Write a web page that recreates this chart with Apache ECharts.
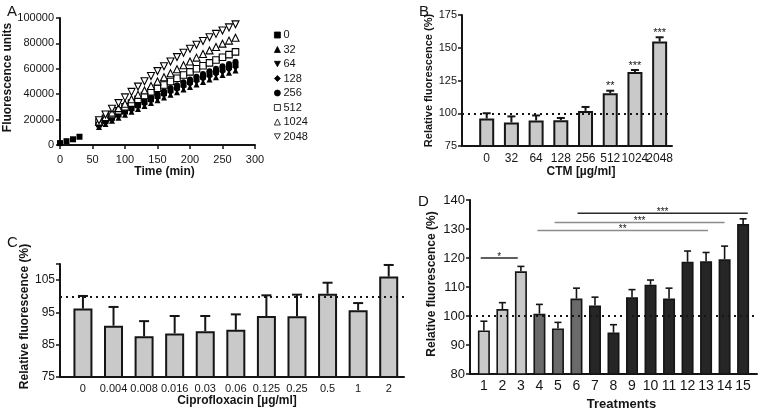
<!DOCTYPE html>
<html><head><meta charset="utf-8">
<script src="https://cdn.jsdelivr.net/npm/echarts@6/dist/echarts.min.js"></script>
<style>html,body{margin:0;padding:0;background:#fff}#c{width:760px;height:412px}</style>
</head><body><div id="c"></div>
<script>
// ---------- Panel A data ----------
const legendA = ['0','32','64','128','256','512','1024','2048'];
const timeEarly = [0, 10, 20, 30];
const earlyConc0 = [1500, 3000, 4500, 6500];
const timeA = [60,70,80,90,100,110,120,130,140,150,160,170,180,190,200,210,220,230,240,250,260,270];
const fl_0    = [16200,18800,21400,23900,26400,28900,31300,33700,36100,38500,40800,43100,45300,47500,49700,51800,53800,55800,57700,59600,61300,63000];
const fl_32   = [14200,16600,19000,21400,23800,26100,28400,30700,33000,35200,37400,39500,41600,43700,45700,47700,49700,51600,53400,55200,56900,58600];
const fl_64   = [15000,17500,19900,22300,24700,27100,29400,31700,34000,36300,38500,40700,42800,44900,47000,49000,51000,52900,54800,56600,58300,60000];
const fl_128  = [15500,18000,20500,23000,25400,27800,30200,32600,34900,37200,39500,41700,43900,46000,48100,50100,52100,54000,55900,57700,59500,61200];
const fl_256  = [17000,19600,22200,24800,27400,30000,32500,35000,37500,40000,42400,44800,47100,49400,51600,53800,55900,58000,60000,62000,63800,65500];
const fl_512  = [18000,21000,24000,27000,30000,33000,36000,39000,41800,44600,47300,50000,52600,55100,57600,60000,62400,64700,66900,69100,71200,73300];
const fl_1024 = [18500,22000,25500,29000,32500,36000,39500,43000,46500,50000,53300,56500,59700,62800,65800,68800,71700,74500,77200,79800,82200,84500];
const fl_2048 = [19500,24000,28500,33000,37500,41800,46000,50200,54300,58200,62000,65700,69200,72600,75800,78900,81900,84800,87500,90100,92600,95000];
const xTicksA = [0, 300, 50];
const yTicksA = [0, 100000, 20000];

// ---------- Panel B data ----------
const ctmLabels = ['0','32','64','128','256','512','1024','2048'];
const ctmMean   = [96.0, 93.0, 94.5, 94.7, 101.8, 115.2, 131.5, 154.8];
const ctmUpper  = [100.0, 97.6, 98.3, 96.4, 104.8, 117.2, 133.0, 158.0];
const ctmStars  = ['','','','','','**','***','***'];

// ---------- Panel C data ----------
const ciproLabels = ['0','0.004','0.008','0.016','0.03','0.06','0.125','0.25','0.5','1','2'];
const ciproMean   = [96.2, 90.9, 87.6, 88.5, 89.2, 89.6, 93.9, 93.8, 100.8, 95.7, 106.1];
const ciproUpper  = [100.1, 96.7, 92.3, 93.9, 93.9, 94.4, 100.3, 100.5, 104.2, 97.9, 109.7];

// ---------- Panel D data ----------
const treatments = [1,2,3,4,5,6,7,8,9,10,11,12,13,14,15];
const treatMean  = [95.0, 102.4, 115.4, 100.8, 95.7, 106.0, 103.6, 94.3, 106.5, 110.8, 106.0, 118.7, 118.9, 119.6, 131.7];
const treatUpper = [98.2, 104.6, 117.1, 104.0, 97.8, 109.6, 106.5, 97.0, 109.1, 112.4, 109.6, 122.4, 121.9, 124.1, 133.5];
const treatGroup = [1,1,1,2,2,2,3,3,3,3,3,3,3,3,3];
const sigFrom = [0.83, 3.89, 4.82, 6.06];
const sigTo   = [2.83, 13.1, 14.0, 15.25];
const sigY    = [120, 129.5, 132.2, 135.4];
const sigText = ['*', '**', '***', '***'];
const sigTone = ['dark', 'light', 'light', 'dark'];
const refLine = 100;

// ---------- styles ----------
const FF = '"Liberation Sans", Arial, Helvetica, sans-serif';
const FN = '"Liberation Sans Narrow", "Liberation Sans", Arial, sans-serif';
const INK = '#151515';
const groupColor = {1: '#c9c9c9', 2: '#6a6a6a', 3: '#262626'};
const toneColor = {dark: '#2a2a2a', light: '#8c8c8c'};

const chart = echarts.init(document.getElementById('c'), null, {renderer: 'canvas'});

function catFormatter(labels, offset) {
  return function (v) {
    const i = Math.round(v);
    if (Math.abs(v - i) > 1e-6) return '';
    const k = i - offset;
    return (k >= 0 && k < labels.length) ? labels[k] : '';
  };
}

function errRender(stars, capHalf, lw, starSize) {
  return function (params, api) {
    const x = api.value(0), top = api.value(1), cap = api.value(2);
    const p1 = api.coord([x, top]);
    const p2 = api.coord([x, cap]);
    const ch = [
      {type: 'line', shape: {x1: p1[0], y1: p1[1], x2: p2[0], y2: p2[1]}, style: {stroke: INK, lineWidth: lw}},
      {type: 'line', shape: {x1: p2[0] - capHalf, y1: p2[1], x2: p2[0] + capHalf, y2: p2[1]}, style: {stroke: INK, lineWidth: lw}}
    ];
    const s = stars ? stars[params.dataIndex] : '';
    if (s) ch.push({type: 'text', x: p2[0], y: p2[1] + 1, style: {text: s, fill: INK, font: starSize + 'px ' + FF, align: 'center', verticalAlign: 'bottom'}});
    return {type: 'group', children: ch};
  };
}

function sigRender(params, api) {
  const i = params.dataIndex;
  const a = api.coord([api.value(0), api.value(2)]);
  const b = api.coord([api.value(1), api.value(2)]);
  const col = toneColor[sigTone[i]];
  return {type: 'group', children: [
    {type: 'line', shape: {x1: a[0], y1: a[1], x2: b[0], y2: b[1]}, style: {stroke: col, lineWidth: 1.5}},
    {type: 'text', x: (a[0] + b[0]) / 2, y: a[1] + 4, style: {text: sigText[i], fill: INK, font: '10px ' + FF, align: 'center', verticalAlign: 'bottom'}}
  ]};
}

function valAxisBase(gi, min, max, interval, fs, margin, font) {
  return {
    gridIndex: gi, type: 'value', min: min, max: max, interval: interval,
    axisLine: {show: true, onZero: false, lineStyle: {color: INK, width: 2}},
    axisTick: {show: true, length: 4, lineStyle: {color: INK, width: 1.5}},
    splitLine: {show: false},
    axisLabel: {color: INK, fontSize: fs, fontFamily: font || FF, margin: margin}
  };
}

const pairs = (xs, ys) => xs.map((x, i) => [x, ys[i]]);

const symA = {
  '0':    {symbol: 'rect', size: 6, fill: '#000', stroke: '#000'},
  '32':   {symbol: 'triangle', size: 6, fill: '#000', stroke: '#000'},
  '64':   {symbol: 'path://M0,0L10,0L5,9Z', size: 6, fill: '#000', stroke: '#000'},
  '128':  {symbol: 'diamond', size: 6, fill: '#000', stroke: '#000'},
  '256':  {symbol: 'circle', size: 6, fill: '#000', stroke: '#000'},
  '512':  {symbol: 'rect', size: 6.5, fill: '#fff', stroke: '#000'},
  '1024': {symbol: 'triangle', size: 7, fill: '#fff', stroke: '#000'},
  '2048': {symbol: 'path://M0,0L10,0L5,9Z', size: 7, fill: '#fff', stroke: '#000'}
};
const dataA = {
  '0': pairs(timeEarly, earlyConc0).concat(pairs(timeA, fl_0)),
  '32': pairs(timeA, fl_32), '64': pairs(timeA, fl_64), '128': pairs(timeA, fl_128),
  '256': pairs(timeA, fl_256), '512': pairs(timeA, fl_512), '1024': pairs(timeA, fl_1024), '2048': pairs(timeA, fl_2048)
};
const seriesA = legendA.map(name => ({
  name: name, type: 'scatter', xAxisIndex: 0, yAxisIndex: 0,
  symbol: symA[name].symbol, symbolSize: symA[name].size,
  itemStyle: {color: symA[name].fill, borderColor: symA[name].stroke, borderWidth: symA[name].fill === '#fff' ? 1.1 : 0, opacity: 1},
  data: dataA[name], animation: false
}));

const option = {
  animation: false,
  backgroundColor: '#fff',
  textStyle: {fontFamily: FF},
  title: [
    {text: 'A', left: 2, top: -1, textStyle: {fontSize: 15, fontWeight: 'normal', color: INK, fontFamily: FF}},
    {text: 'B', left: 414, top: -1, textStyle: {fontSize: 15, fontWeight: 'normal', color: INK, fontFamily: FF}},
    {text: 'C', left: 2, top: 230, textStyle: {fontSize: 15, fontWeight: 'normal', color: INK, fontFamily: FF}},
    {text: 'D', left: 413, top: 189, textStyle: {fontSize: 15, fontWeight: 'normal', color: INK, fontFamily: FF}}
  ],
  legend: {
    left: 269, top: 24, orient: 'vertical', itemWidth: 6, itemHeight: 6, itemGap: 2.5,
    data: legendA, selectedMode: false,
    itemStyle: {borderWidth: 0.8},
    textStyle: {fontSize: 11, color: INK, fontFamily: FF, lineHeight: 12, padding: [0, 0, 0, -2]}
  },
  grid: [
    {left: 60, top: 18, width: 195, height: 127},
    {left: 462, top: 15, width: 210, height: 131},
    {left: 60, top: 264, width: 344, height: 113},
    {left: 470, top: 200, width: 287, height: 177}
  ],
  xAxis: [
    Object.assign(valAxisBase(0, xTicksA[0], xTicksA[1], xTicksA[2], 11, 9), {
      name: 'Time (min)', nameLocation: 'middle', nameGap: 19,
      nameTextStyle: {fontWeight: 'bold', fontSize: 12, color: INK, fontFamily: FF, padding: [0, 0, 0, 14]}
    }),
    Object.assign(valAxisBase(1, -1, 7.5, 0.25, 12, 7), {
      axisTick: {show: false},
      axisLabel: {color: INK, fontSize: 12, fontFamily: FF, margin: 7, formatter: catFormatter(ctmLabels, 0)},
      name: 'CTM [µg/ml]', nameLocation: 'middle', nameGap: 20,
      nameTextStyle: {fontWeight: 'bold', fontSize: 12, color: INK, fontFamily: FF, padding: [0, 0, 0, 28]}
    }),
    Object.assign(valAxisBase(2, -0.75, 10.5, 0.25, 11, 6), {
      axisTick: {show: false},
      axisLabel: {color: INK, fontSize: 11, fontFamily: FF, margin: 6, formatter: catFormatter(ciproLabels, 0)},
      name: 'Ciprofloxacin [µg/ml]', nameLocation: 'middle', nameGap: 14,
      nameTextStyle: {fontWeight: 'bold', fontSize: 12, color: INK, fontFamily: FF, padding: [0, 0, 0, 10]}
    }),
    Object.assign(valAxisBase(3, 0.25, 15.75, 0.25, 14, 5), {
      axisTick: {show: false},
      axisLabel: {color: INK, fontSize: 14, fontFamily: FF, margin: 5, formatter: catFormatter(treatments.map(String), 1)},
      name: 'Treatments', nameLocation: 'middle', nameGap: 24,
      nameTextStyle: {fontWeight: 'bold', fontSize: 13, color: INK, fontFamily: FF, padding: [0, 0, 0, 16]}
    })
  ],
  yAxis: [
    Object.assign(valAxisBase(0, yTicksA[0], yTicksA[1], yTicksA[2], 11, 6), {
      axisLabel: {color: INK, fontSize: 11, fontFamily: FF, margin: 6, formatter: v => String(v)},
      name: 'Fluorescence units', nameLocation: 'middle', nameGap: 45, nameRotate: 90,
      nameTextStyle: {fontWeight: 'bold', fontSize: 12, color: INK, fontFamily: FF, padding: [0, 0, 0, 8]}
    }),
    Object.assign(valAxisBase(1, 75, 175, 25, 11, 5, FN), {
      name: 'Relative fluorescence (%)', nameLocation: 'middle', nameGap: 19, nameRotate: 90,
      nameTextStyle: {fontWeight: 'bold', fontSize: 11, color: INK, fontFamily: FF}
    }),
    Object.assign(valAxisBase(2, 75, 110, 10, 12, 5, FN), {
      axisLabel: {color: INK, fontSize: 12, fontFamily: FN, margin: 5, formatter: v => (v > 106 ? '' : String(v))},
      name: 'Relative fluorescence (%)', nameLocation: 'middle', nameGap: 28, nameRotate: 90,
      nameTextStyle: {fontWeight: 'bold', fontSize: 12, color: INK, fontFamily: FF, padding: [0, 0, 0, 8]}
    }),
    Object.assign(valAxisBase(3, 80, 140, 10, 13, 5), {
      name: 'Relative fluorescence (%)', nameLocation: 'middle', nameGap: 32, nameRotate: 90,
      nameTextStyle: {fontWeight: 'bold', fontSize: 12, color: INK, fontFamily: FF, padding: [0, 0, 0, 6]}
    })
  ],
  series: seriesA.concat([
    {type: 'line', xAxisIndex: 1, yAxisIndex: 1, data: [], z: 1, silent: true,
     markLine: {silent: true, symbol: 'none', label: {show: false}, lineStyle: {type: [2, 4], color: INK, width: 2}, data: [{yAxis: refLine}]}},
    {type: 'line', xAxisIndex: 2, yAxisIndex: 2, data: [], z: 1, silent: true,
     markLine: {silent: true, symbol: 'none', label: {show: false}, lineStyle: {type: [2, 4], color: INK, width: 2}, data: [{yAxis: refLine}]}},
    {type: 'line', xAxisIndex: 3, yAxisIndex: 3, data: [], z: 1, silent: true,
     markLine: {silent: true, symbol: 'none', label: {show: false}, lineStyle: {type: [2, 4], color: INK, width: 2}, data: [{yAxis: refLine}]}},
    {type: 'bar', xAxisIndex: 1, yAxisIndex: 1, z: 3, barWidth: 15,
     itemStyle: {color: '#c9c9c9', borderColor: INK, borderWidth: 2},
     data: ctmMean.map((v, i) => [i, v])},
    {type: 'custom', xAxisIndex: 1, yAxisIndex: 1, z: 4, renderItem: errRender(ctmStars, 4, 2, 11),
     encode: {x: 0, y: [1, 2]}, data: ctmMean.map((v, i) => [i, v, ctmUpper[i]])},
    {type: 'bar', xAxisIndex: 2, yAxisIndex: 2, z: 3, barWidth: 19,
     itemStyle: {color: '#c9c9c9', borderColor: INK, borderWidth: 2},
     data: ciproMean.map((v, i) => [i, v])},
    {type: 'custom', xAxisIndex: 2, yAxisIndex: 2, z: 4, renderItem: errRender(null, 5, 2, 11),
     encode: {x: 0, y: [1, 2]}, data: ciproMean.map((v, i) => [i, v, ciproUpper[i]])},
    {type: 'bar', xAxisIndex: 3, yAxisIndex: 3, z: 3, barWidth: 12,
     itemStyle: {borderColor: INK, borderWidth: 1.6},
     data: treatMean.map((v, i) => ({value: [treatments[i], v], itemStyle: {color: groupColor[treatGroup[i]]}}))},
    {type: 'custom', xAxisIndex: 3, yAxisIndex: 3, z: 4, renderItem: errRender(null, 3.5, 1.6, 10),
     encode: {x: 0, y: [1, 2]}, data: treatMean.map((v, i) => [treatments[i], v, treatUpper[i]])},
    {type: 'custom', xAxisIndex: 3, yAxisIndex: 3, z: 4, renderItem: sigRender,
     encode: {x: [0, 1], y: 2}, data: sigY.map((y, i) => [sigFrom[i], sigTo[i], y])}
  ])
};
chart.setOption(option);
</script></body></html>
